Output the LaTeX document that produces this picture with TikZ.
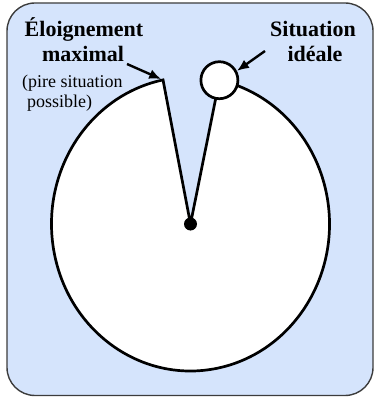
\documentclass[tikz,border=0pt]{standalone}
\usepackage{fontspec}
\setmainfont{Liberation Serif}
\usetikzlibrary{arrows.meta}
\definecolor{bg}{RGB}{213,228,252}
\definecolor{frame}{RGB}{60,60,60}
\begin{document}
\begin{tikzpicture}[x=1pt,y=1pt,
  bigtxt/.style={font=\fontsize{22}{26}\selectfont\bfseries, inner sep=0pt, anchor=base},
  smalltxt/.style={font=\fontsize{18}{20}\selectfont, inner sep=0pt, anchor=base west},
  edge/.style={line width=2.7pt, line join=miter},
  pointer/.style={line width=2.4pt, -{Latex[length=12pt,width=10pt]}}]
\useasboundingbox (0,0) rectangle (375,397);
\draw[fill=bg, draw=frame, line width=1.4pt, rounded corners=28pt] (7,1.5) rectangle (373,394);
\coordinate (C) at (190.5,173);
\path (C) ++(101.4:139 and 147) coordinate (worst);
\path (C) ++(78:139 and 147) coordinate (best);
\draw[edge, fill=white] (C) -- (worst) arc[start angle=101.4, end angle=438, x radius=139, y radius=147] -- cycle;
\node[circle, draw, line width=2.7pt, fill=white, minimum size=37pt, inner sep=0pt] (ideal) at (best) {};
\node[circle, fill=black, minimum size=13pt, inner sep=0pt] (centre) at (C) {};
\node[bigtxt] (t1) at (84,360) {Éloignement};
\node[bigtxt] (t2) at (83,335) {maximal};
\node[bigtxt] (t3) at (313,360) {Situation};
\node[bigtxt] (t4) at (315,335) {idéale};
\node[smalltxt] (t5) at (22,309) {(pire situation};
\node[smalltxt] (t6) at (27,289) {possible)};
\coordinate (a1) at (127,333);
\coordinate (a2) at (265,346);
\draw[pointer, shorten >=2pt] (a1) -- (worst);
\draw[pointer] (a2) -- (ideal.28);
\end{tikzpicture}
\end{document}
